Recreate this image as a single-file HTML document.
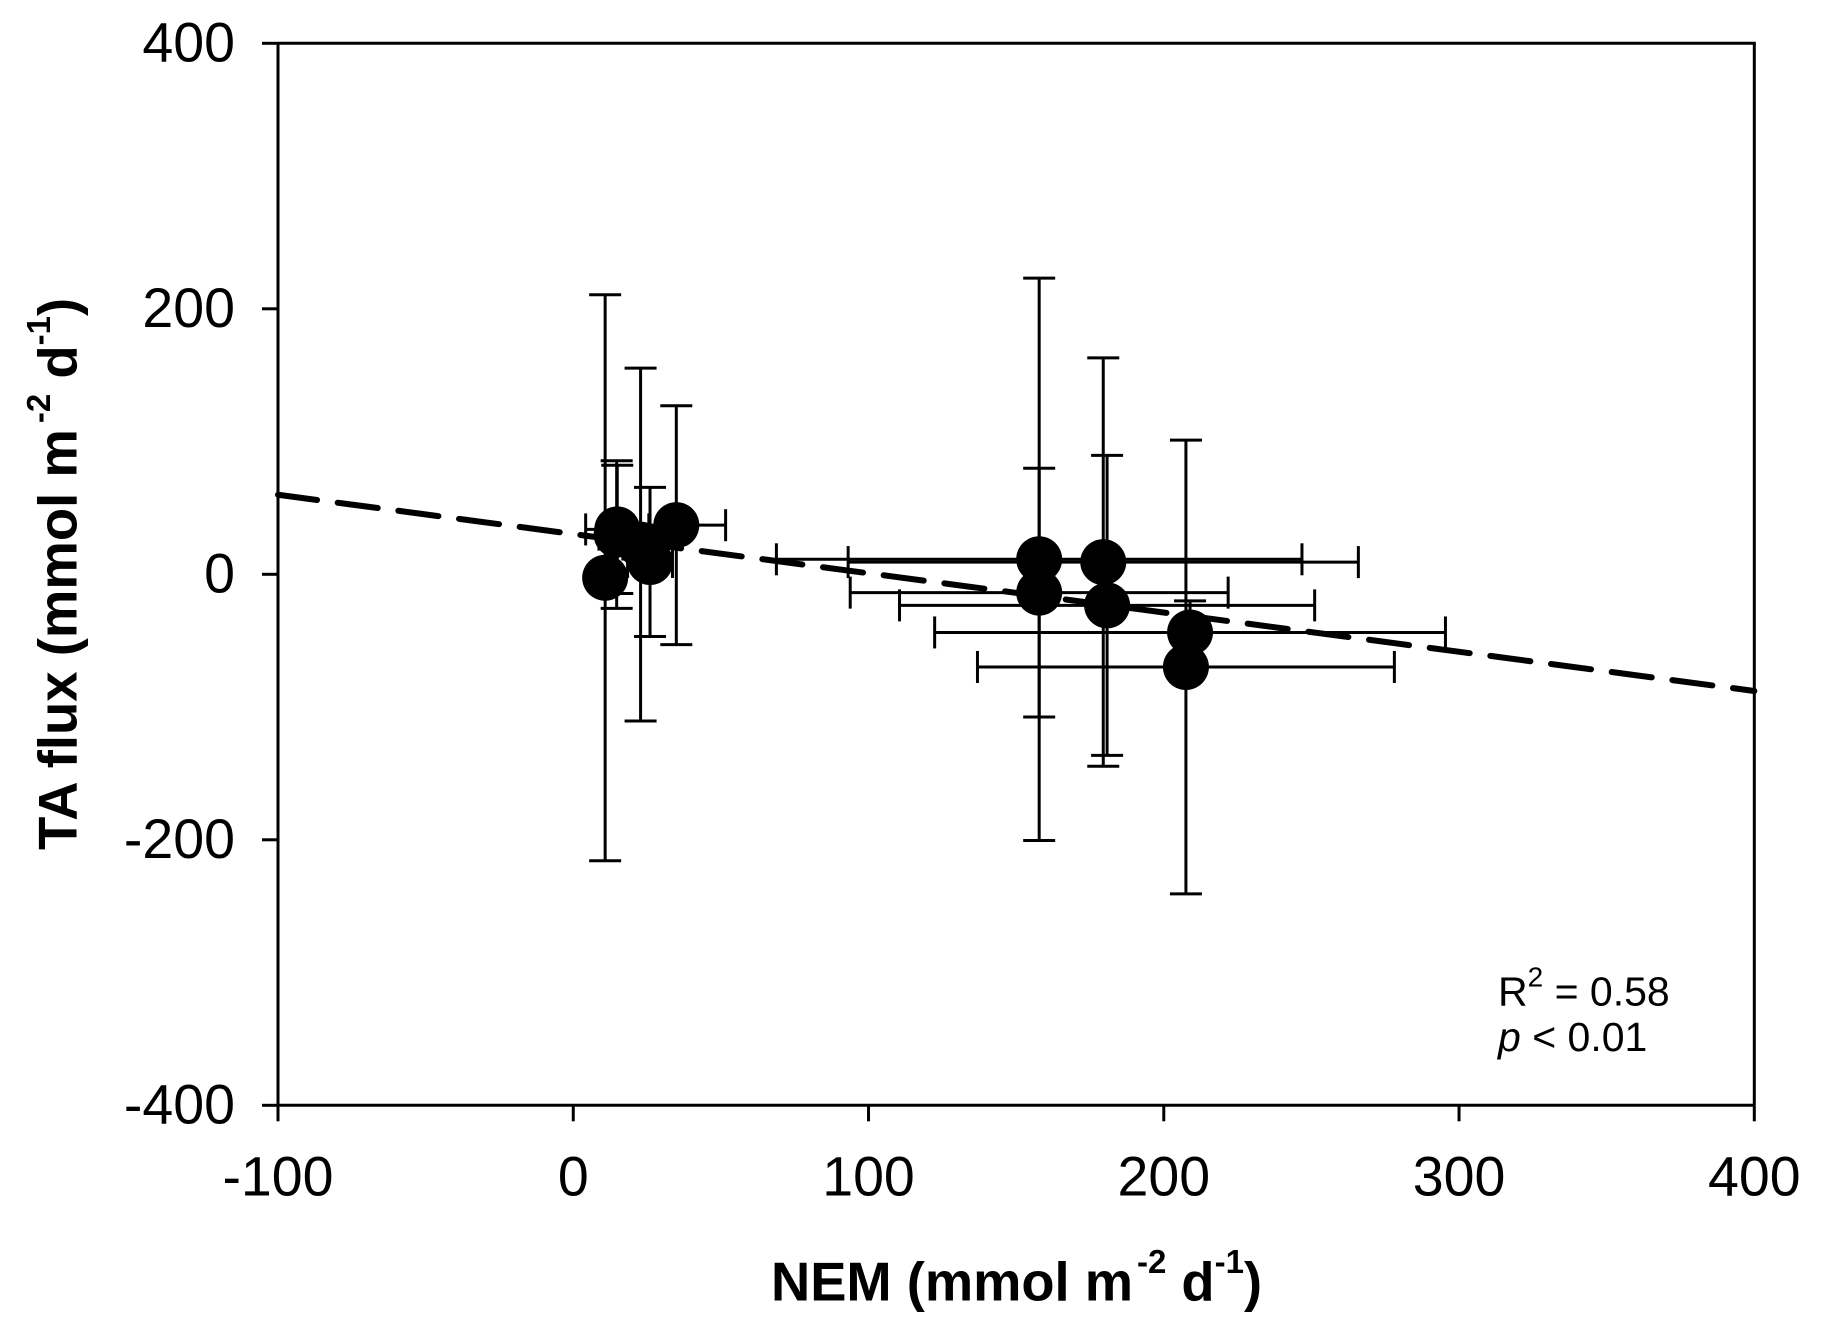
<!DOCTYPE html>
<html>
<head>
<meta charset="utf-8">
<title>TA flux vs NEM</title>
<style>
html,body{margin:0;padding:0;background:#fff;}
svg{display:block;}
text{font-family:"Liberation Sans",Arial,sans-serif;fill:#000;}
</style>
</head>
<body>
<svg id="chart" xmlns="http://www.w3.org/2000/svg" width="1829" height="1336" viewBox="0 0 1829 1336">
  <rect x="0" y="0" width="1829" height="1336" fill="#ffffff"/>
  <g id="series"></g>
  <g id="axes"></g>
  <text x="771" y="1300.7" font-size="54.3" font-weight="bold">NEM (mmol m<tspan font-size="33" dy="-27.6" dx="4">-2</tspan><tspan font-size="54.3" dy="27.6"> d</tspan><tspan font-size="33" dy="-27.6">-1</tspan><tspan font-size="54.3" dy="27.6">)</tspan></text>
  <text transform="translate(76.5,850) rotate(-90)" x="0" y="0" font-size="54.5" font-weight="bold">TA flux (mmol m<tspan font-size="33" dy="-26.5" dx="6">-2</tspan><tspan font-size="54.5" dy="26.5"> d</tspan><tspan font-size="33" dy="-26.5">-1</tspan><tspan font-size="54.5" dy="26.5">)</tspan></text>
  <text x="1498" y="1005.7" font-size="41">R<tspan font-size="28" dy="-19">2</tspan><tspan font-size="41" dy="19"> = 0.58</tspan></text>
  <text x="1498" y="1051" font-size="41"><tspan font-style="italic">p</tspan> &lt; 0.01</text>
</svg>
<script>
var nemValues   = [10.8, 14.7, 14.9, 22.8, 26, 34.9, 157.8, 179.5, 157.8, 180.8, 208.9, 207.5];
var taValues    = [-2.6, 29.9, 33.8, 22.4, 9.3, 37, 11.3, 9.2, -13.8, -23.4, -43.8, -69.8];
var nemErrors   = [5, 6, 10.7, 6, 7.6, 16.7, 89, 86.4, 64, 70.3, 86.5, 70.6];
var taErrors    = [213.2, 55.6, 48.3, 132.9, 56.2, 90, 211.8, 153.8, 93.7, 113, 23.8, 170.9];
var fitNem      = [-100, 400];
var fitTa       = [59.9, -87.9];
var xTickLabels = [-100, 0, 100, 200, 300, 400];
var yTickLabels = [400, 200, 0, -200, -400];

var NS = 'http://www.w3.org/2000/svg';
var plotLeft = 278, plotRight = 1754.3, plotTop = 43.3, plotBottom = 1105.3;
var xMin = -100, xMax = 400, yMin = -400, yMax = 400;
var LW = 3, CAP = 16, TICK = 16, MARKER_R = 23;

function xScale(v) { return plotLeft + (v - xMin) / (xMax - xMin) * (plotRight - plotLeft); }
function yScale(v) { return plotBottom - (v - yMin) / (yMax - yMin) * (plotBottom - plotTop); }

function makeLine(parent, x1, y1, x2, y2, width) {
  var l = document.createElementNS(NS, 'line');
  l.setAttribute('x1', x1);
  l.setAttribute('y1', y1);
  l.setAttribute('x2', x2);
  l.setAttribute('y2', y2);
  l.setAttribute('stroke', '#000');
  l.setAttribute('stroke-width', width);
  parent.appendChild(l);
  return l;
}

var axes = document.getElementById('axes');
var series = document.getElementById('series');

var frameTop = makeLine(axes, plotLeft, plotTop, plotRight + LW / 2, plotTop, LW);


var frameRight = makeLine(axes, plotRight, plotTop, plotRight, plotBottom, LW);


var xAxisLine = makeLine(axes, plotLeft, plotBottom, plotRight, plotBottom, LW);


var yAxisLine = makeLine(axes, plotLeft, plotTop, plotLeft, plotBottom, LW);



xTickLabels.forEach(function (v) {
  var x = xScale(v);
  var t = makeLine(axes, x, plotBottom, x, plotBottom + TICK, LW);
  
  
  var lab = document.createElementNS(NS, 'text');
  lab.setAttribute('x', x);
  lab.setAttribute('y', 1195.5);
  lab.setAttribute('font-size', 55.5);
  lab.setAttribute('text-anchor', 'middle');
  lab.textContent = String(v);
  
  
  axes.appendChild(lab);
});

yTickLabels.forEach(function (v) {
  var y = yScale(v);
  var t = makeLine(axes, plotLeft - TICK, y, plotLeft, y, LW);
  
  
  var lab = document.createElementNS(NS, 'text');
  lab.setAttribute('x', 235);
  lab.setAttribute('y', y + 18);
  lab.setAttribute('font-size', 55.5);
  lab.setAttribute('text-anchor', 'end');
  lab.textContent = String(v);
  
  
  axes.appendChild(lab);
});

nemValues.forEach(function (nem, i) {
  var ta = taValues[i];
  var cx = xScale(nem), cy = yScale(ta);
  var xLo = xScale(nem - nemErrors[i]), xHi = xScale(nem + nemErrors[i]);
  var yLo = yScale(ta - taErrors[i]), yHi = yScale(ta + taErrors[i]);
  var g = document.createElementNS(NS, 'g');
  
  
  makeLine(g, cx, yLo, cx, yHi, LW);
  makeLine(g, cx - CAP, yLo, cx + CAP, yLo, LW);
  makeLine(g, cx - CAP, yHi, cx + CAP, yHi, LW);
  makeLine(g, xLo, cy, xHi, cy, LW);
  makeLine(g, xLo, cy - CAP, xLo, cy + CAP, LW);
  makeLine(g, xHi, cy - CAP, xHi, cy + CAP, LW);
  series.appendChild(g);
});

var fit = makeLine(series, xScale(fitNem[0]), yScale(fitTa[0]), xScale(fitNem[1]), yScale(fitTa[1]), 6);
fit.setAttribute('stroke-dasharray', '40.4 20.8');
fit.setAttribute('stroke-dashoffset', '1');
fit.setAttribute('stroke-linecap', 'round');



nemValues.forEach(function (nem, i) {
  var c = document.createElementNS(NS, 'circle');
  c.setAttribute('cx', xScale(nem));
  c.setAttribute('cy', yScale(taValues[i]));
  c.setAttribute('r', MARKER_R);
  c.setAttribute('fill', '#000');
  
  
  series.appendChild(c);
});
</script>
</body>
</html>
